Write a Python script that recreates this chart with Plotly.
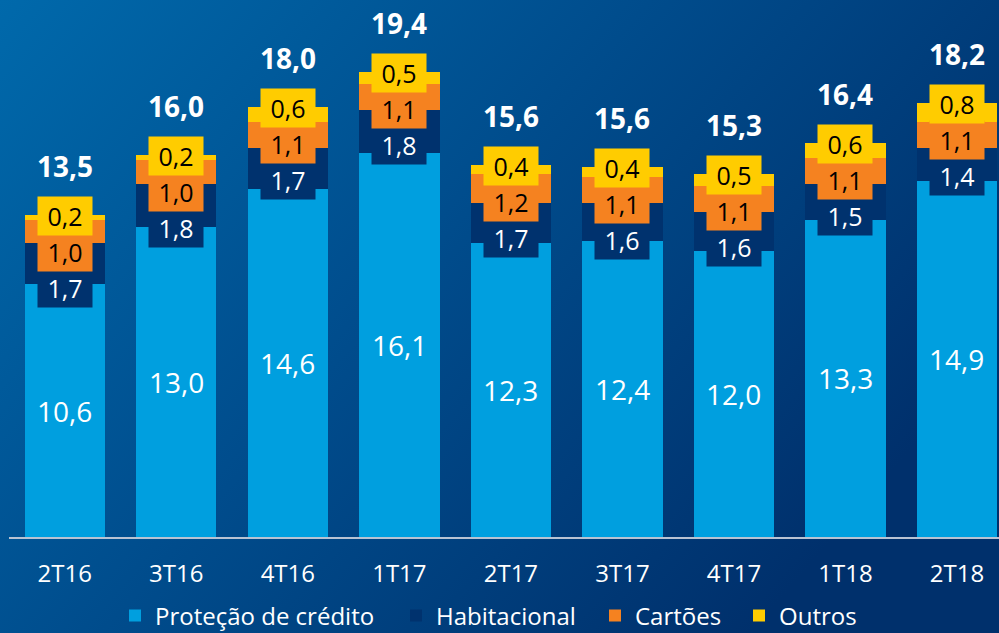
import base64
import plotly.graph_objects as go

# ---------------- data ----------------
categories = ["2T16", "3T16", "4T16", "1T17", "2T17", "3T17", "4T17", "1T18", "2T18"]
protecao = [10.6, 13.0, 14.6, 16.1, 12.3, 12.4, 12.0, 13.3, 14.9]
habitacional = [1.7, 1.8, 1.7, 1.8, 1.7, 1.6, 1.6, 1.5, 1.4]
cartoes = [1.0, 1.0, 1.1, 1.1, 1.2, 1.1, 1.1, 1.1, 1.1]
outros = [0.2, 0.2, 0.6, 0.5, 0.4, 0.4, 0.5, 0.6, 0.8]
totals = [13.5, 16.0, 18.0, 19.4, 15.6, 15.6, 15.3, 16.4, 18.2]
series_names = ["Proteção de crédito", "Habitacional", "Cartões", "Outros"]

# ---------------- style ----------------
C_PROT = "#009FDF"
C_HAB = "#00326E"
C_CART = "#F58220"
C_OUT = "#FFCC00"
FONT = "Open Sans"

W, H = 999, 633
ML, MR, MT, MB = 9, 0, 0, 96
Y_MAX = 22.5
plot_h = H - MT - MB
plot_w = W - ML - MR
ppu = plot_h / Y_MAX  # pixels per data unit
LEGEND_TEXT_X = [155, 436, 635, 779]  # pixel x where each legend label starts


def fmt(v):
    return f"{v:.1f}".replace(".", ",")


fig = go.Figure()
legend_ids = ["legend", "legend2", "legend3", "legend4"]
for name, vals, col, lid in zip(series_names, [protecao, habitacional, cartoes, outros],
                                [C_PROT, C_HAB, C_CART, C_OUT], legend_ids):
    fig.add_trace(go.Bar(x=categories, y=vals, name=name, marker_color=col,
                         marker_line_width=0, hoverinfo="skip", legend=lid))

annotations = []
GAP = 36 / ppu
for i, cat in enumerate(categories):
    p, h, c, o = protecao[i], habitacional[i], cartoes[i], outros[i]
    top = p + h + c + o
    y_out = top - 1 / ppu
    y_cart = min(p + h + c / 2, y_out - GAP)
    y_hab = min(p + h / 2, y_cart - GAP)
    annotations.append(dict(x=cat, y=p / 2, text=fmt(p), showarrow=False,
                            font=dict(family=FONT, size=28, color="white")))
    for yy, val, bg, fc in [(y_hab, h, C_HAB, "white"),
                            (y_cart, c, C_CART, "black"),
                            (y_out, o, C_OUT, "black")]:
        annotations.append(dict(x=cat, y=yy, text=fmt(val), showarrow=False,
                                bgcolor=bg, width=52, height=36, borderpad=1,
                                font=dict(family=FONT, size=25, color=fc)))
    annotations.append(dict(x=cat, y=y_out + 50 / ppu, text=f"<b>{fmt(totals[i])}</b>",
                            showarrow=False,
                            font=dict(family=FONT, size=28, color="white")))

# gradient background as inline SVG
svg = (
    "<svg xmlns='http://www.w3.org/2000/svg' width='999' height='633' preserveAspectRatio='none'>"
    "<defs><linearGradient id='g' x1='0' y1='0' x2='1' y2='0.55'>"
    "<stop offset='0' stop-color='#0069AB'/>"
    "<stop offset='0.5' stop-color='#004C8C'/>"
    "<stop offset='1' stop-color='#00306C'/>"
    "</linearGradient></defs>"
    "<rect width='999' height='633' fill='url(#g)'/></svg>"
)
src = "data:image/svg+xml;base64," + base64.b64encode(svg.encode()).decode()

legend_y = -(616 - (H - MB)) / plot_h
legends = {}
for lid, tx in zip(legend_ids, LEGEND_TEXT_X):
    legends[lid] = dict(orientation="h", x=(tx - 40 - ML) / plot_w, xanchor="left",
                        y=legend_y, yanchor="middle",
                        font=dict(family=FONT, size=24, color="white"),
                        bgcolor="rgba(0,0,0,0)", itemwidth=30, borderwidth=0)

fig.update_layout(
    width=W, height=H,
    margin=dict(l=ML, r=MR, t=MT, b=MB, pad=0, autoexpand=False),
    barmode="stack", bargap=0.28,
    paper_bgcolor="#00478A", plot_bgcolor="rgba(0,0,0,0)",
    font=dict(family=FONT, color="white"),
    annotations=annotations,
    images=[dict(source=src, xref="paper", yref="paper",
                 x=-ML / plot_w, y=1 + MT / plot_h,
                 sizex=W / plot_w, sizey=H / plot_h,
                 xanchor="left", yanchor="top", sizing="stretch", layer="below")],
    showlegend=True,
    **legends,
)
fig.update_xaxes(range=[-0.5, 8.5 - 13.75 / 111.5], showgrid=False, zeroline=False,
                 showline=True, linecolor="#B9C3D3", linewidth=2,
                 tickfont=dict(family=FONT, size=24, color="white"),
                 ticks="", ticklabelstandoff=14, fixedrange=True)
fig.update_yaxes(range=[0, Y_MAX], visible=False, fixedrange=True)

fig.write_html("out.html", config={"displayModeBar": False},
               post_script="document.body.style.margin='0';")
